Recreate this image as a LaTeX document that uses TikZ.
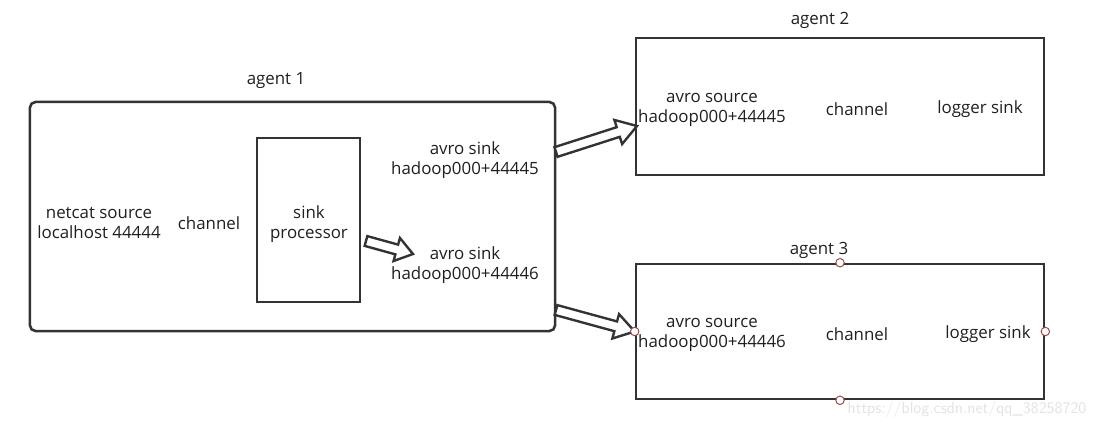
\documentclass[tikz,border=0pt]{standalone}
\usepackage{fontspec}
\setmainfont{Open Sans}
\usetikzlibrary{calc, positioning}
\definecolor{boxgray}{RGB}{51,51,51}
\definecolor{ringred}{RGB}{160,70,70}
\definecolor{markgray}{RGB}{226,226,226}

\tikzset{
  agentbox/.style={draw=boxgray, line width=1.8pt, inner sep=0pt},
  txt/.style={font=\fontsize{12}{14.5}\selectfont, align=center, text=black!88, yshift=-1.5pt},
  ring/.style={circle, draw=ringred, fill=white, inner sep=0pt, minimum size=6pt, line width=0.7pt},
  fatarrow/.style={draw=boxgray, fill=white, line width=1.7pt, line join=miter}
}

% hollow block arrow: tail, tip, shaft half width, head half width, head length
\newcommand{\hollowarrow}[5]{%
  \coordinate (ha-c) at ($(#2)!#5!(#1)$);
  \draw[fatarrow] ($(#1)!#3!90:(#2)$) -- ($(ha-c)!#3!90:(#2)$)
    -- ($(ha-c)!#4!90:(#2)$) -- (#2) -- ($(ha-c)!#4!-90:(#2)$)
    -- ($(ha-c)!#3!-90:(#2)$) -- ($(#1)!#3!-90:(#2)$) -- cycle;
}

\begin{document}
\begin{tikzpicture}[x=0.025cm, y=-0.025cm]
    \useasboundingbox (0,0) rectangle (1098,427);

    % Agent 1
    \node[agentbox, rounded corners=4pt, minimum width=13.125cm, minimum height=5.725cm] (agent1) at (292.5,216.5) {};
    \node[txt] (agent1lbl) at (276,78) {agent 1};
    \node[agentbox, minimum width=2.575cm, minimum height=4.1cm] (proc) at (308.5,220) {};
    \node[txt] (proclbl) at (309,222) {sink\\processor};
    \node[txt] (netcat) at (99,221) {netcat source\\localhost 44444};
    \node[txt] (chan1) at (209,221) {channel};
    \node[txt] (sinkA) at (465,158) {avro sink\\hadoop000+44445};
    \node[txt] (sinkB) at (465,263) {avro sink\\hadoop000+44446};

    % Agent 2
    \node[agentbox, minimum width=10.2cm, minimum height=3.425cm] (agent2) at (840,106.5) {};
    \node[txt] (agent2lbl) at (820,18) {agent 2};
    \node[txt] (srcA) at (712,108) {avro source\\hadoop000+44445};
    \node[txt] (chan2) at (857,107) {channel};
    \node[txt] (logA) at (980,107) {logger sink};

    % Agent 3
    \node[agentbox, minimum width=10.2cm, minimum height=3.375cm] (agent3) at (840,331.5) {};
    \node[txt] (agent3lbl) at (819,248) {agent 3};
    \node[txt] (srcB) at (712,333) {avro source\\hadoop000+44446};
    \node[txt] (chan3) at (857,332) {channel};
    \node[txt] (logB) at (988,332) {logger sink};

    % block arrows
    \coordinate (outA) at (556,152);
    \coordinate (inA) at (637,126);
    \coordinate (procout) at (366,241);
    \coordinate (sinkin) at (413,254);
    \coordinate (outB) at (556,310);
    \coordinate (inB) at (agent3.west);
    \hollowarrow{outA}{inA}{3.6pt}{9pt}{14pt}
    \hollowarrow{procout}{sinkin}{3.6pt}{8.5pt}{12pt}
    \hollowarrow{outB}{inB}{3.6pt}{9pt}{14pt}

    % handles on agent 3
    \node[ring] (hn) at (agent3.north) {};
    \node[ring] (hw) at (agent3.west) {};
    \node[ring] (he) at (agent3.east) {};
    \node[ring] (hs) at (agent3.south) {};

    % watermark
    \node[font=\fontsize{11.5}{13}\selectfont\sffamily, text=markgray] (mark) at (967,409) {https://blog.csdn.net/qq\_38258720};
\end{tikzpicture}
\end{document}
